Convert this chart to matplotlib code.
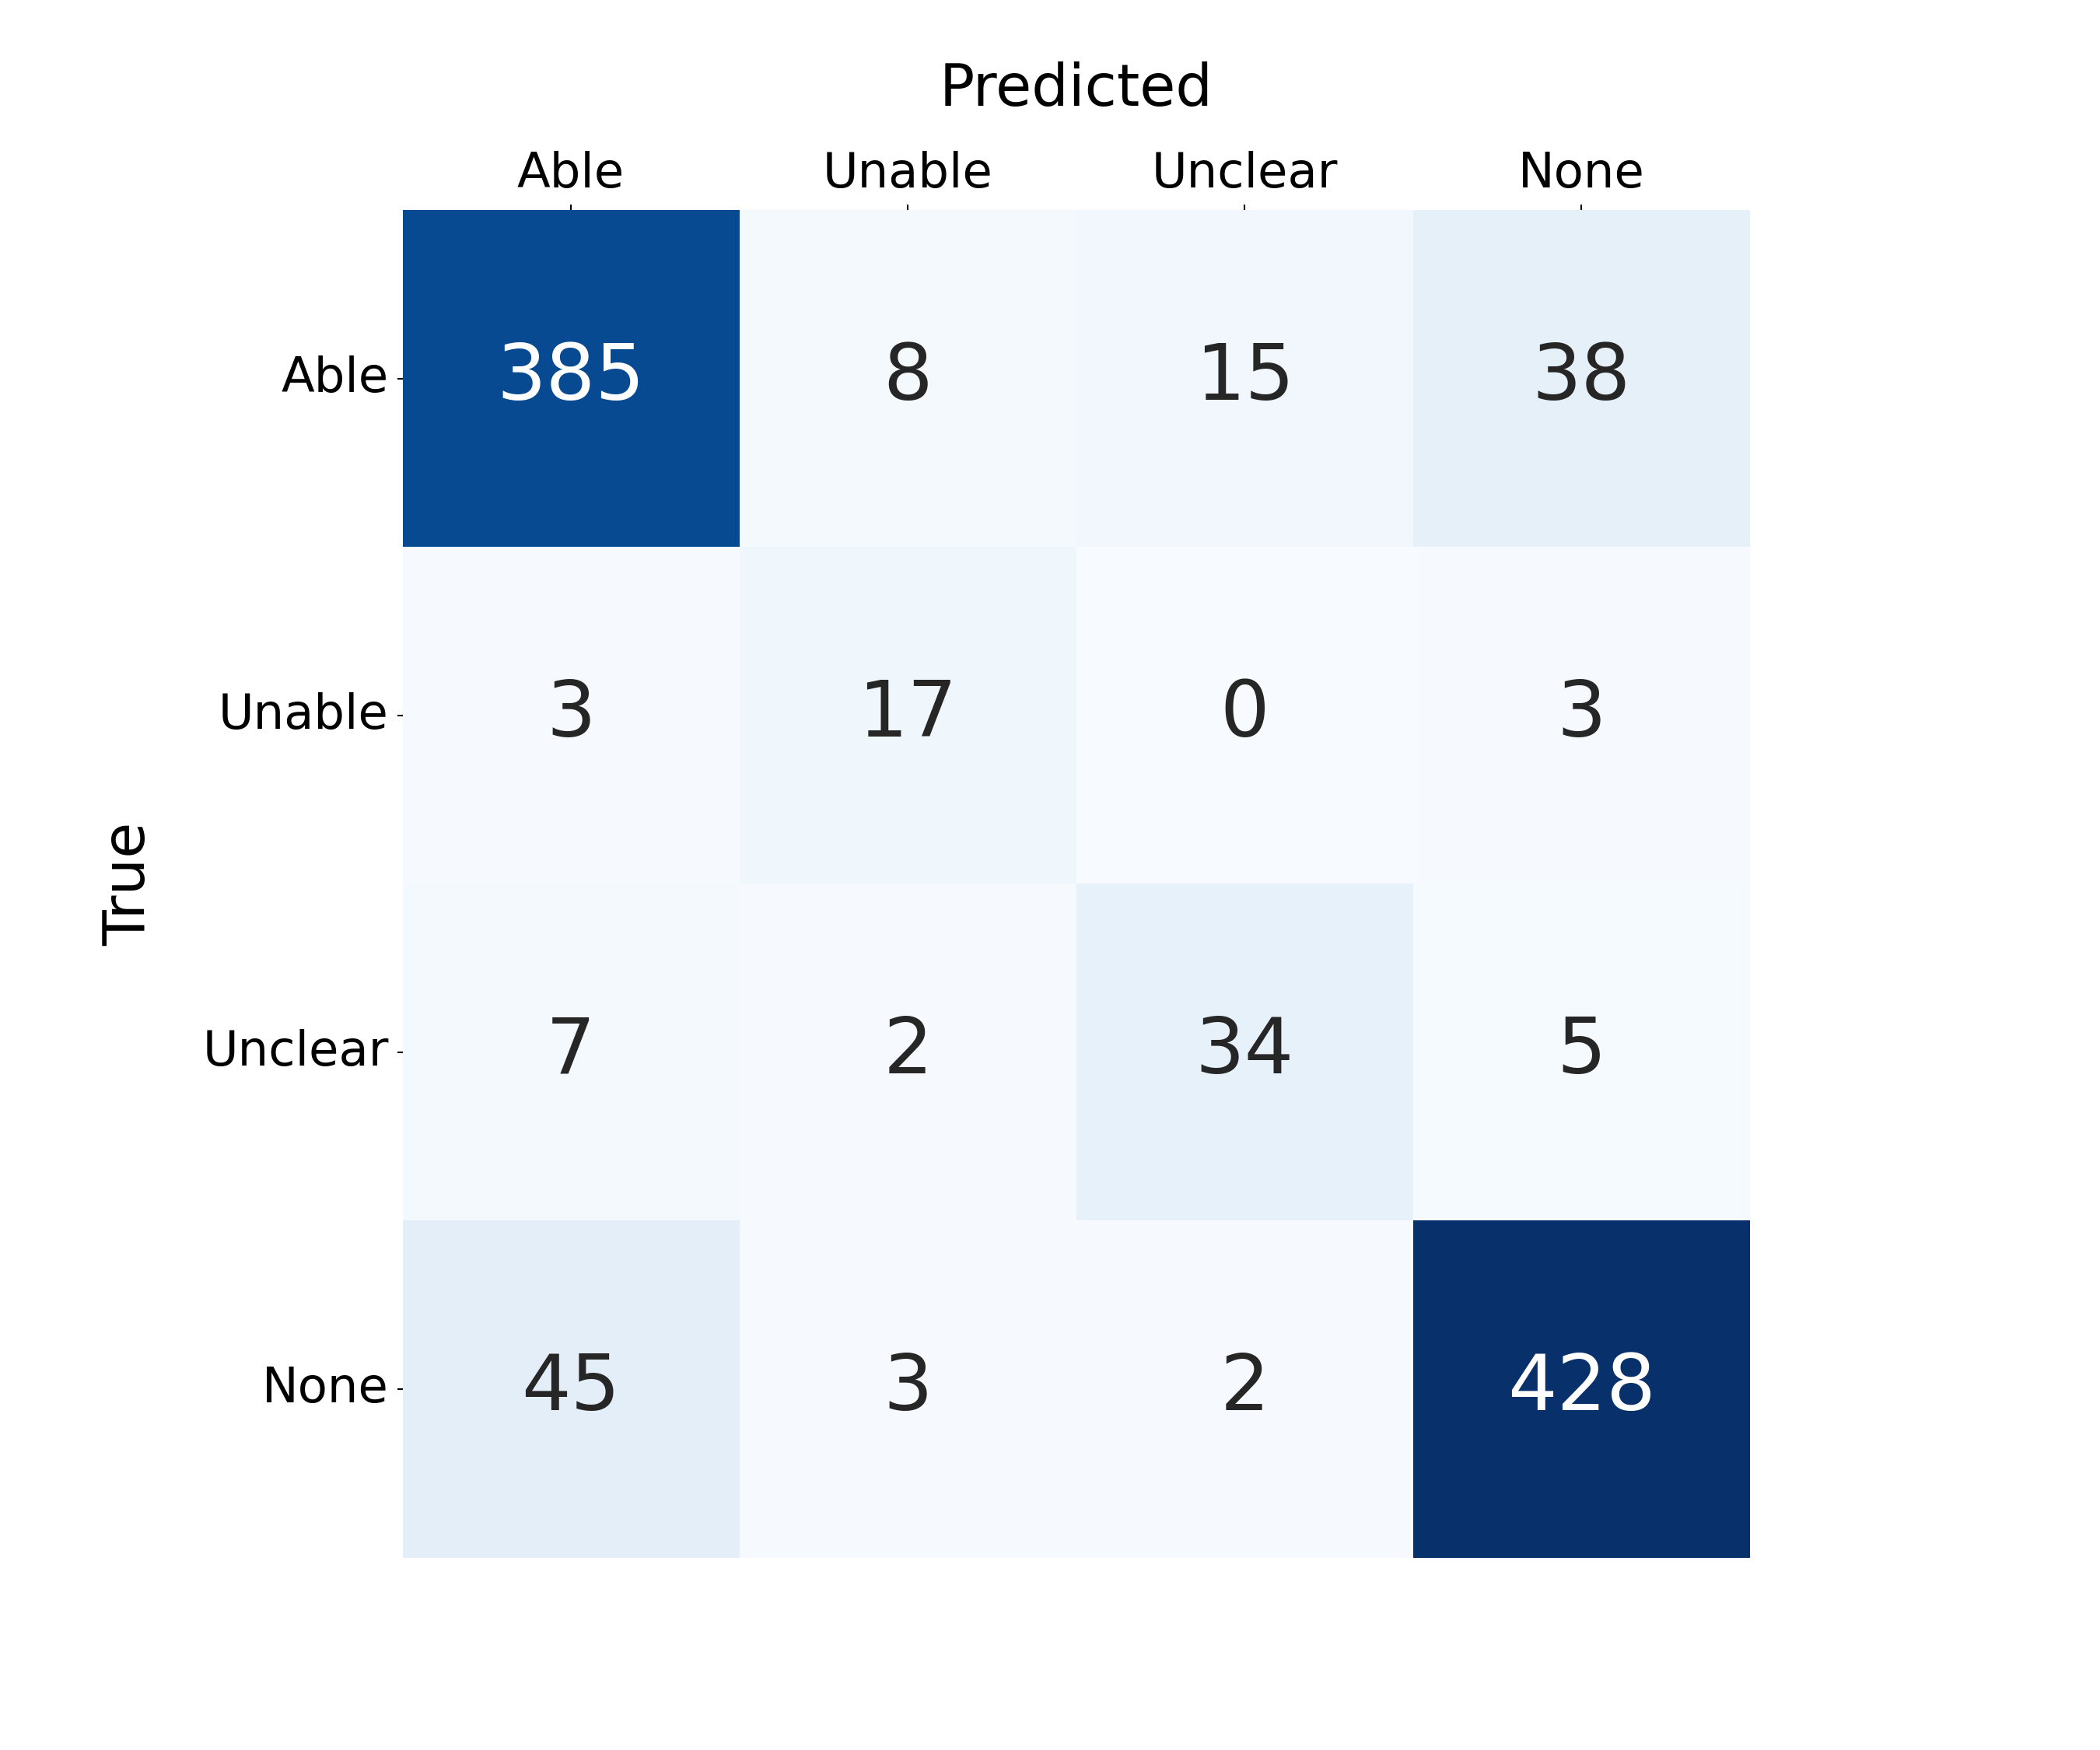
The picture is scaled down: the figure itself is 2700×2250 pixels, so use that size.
import numpy as np
import matplotlib
matplotlib.use("Agg")
import matplotlib.pyplot as plt
import seaborn as sns

# confusion matrix values (rows = true, cols = predicted)
labels = ["Able", "Unable", "Unclear", "None"]
row_able = [385, 8, 15, 38]
row_unable = [3, 17, 0, 3]
row_unclear = [7, 2, 34, 5]
row_none = [45, 3, 2, 428]

cm = np.array([row_able, row_unable, row_unclear, row_none])

fig, ax = plt.subplots(figsize=(9, 7.5))
sns.heatmap(cm, annot=True, fmt="d", cmap="Blues", cbar=False, square=True,
            xticklabels=labels, yticklabels=labels,
            annot_kws={"size": 24}, ax=ax)

ax.xaxis.tick_top()
ax.xaxis.set_label_position("top")
ax.set_xlabel("Predicted", fontsize=18, labelpad=14)
ax.set_ylabel("True", fontsize=18, labelpad=14)
ax.tick_params(axis="both", labelsize=15, length=1.75, width=0.5)
ax.tick_params(axis="x", pad=2)
ax.tick_params(axis="y", pad=2.5)
plt.setp(ax.get_yticklabels(), rotation=0)
plt.setp(ax.get_xticklabels(), rotation=0)

plt.savefig("out.png", dpi=300)
